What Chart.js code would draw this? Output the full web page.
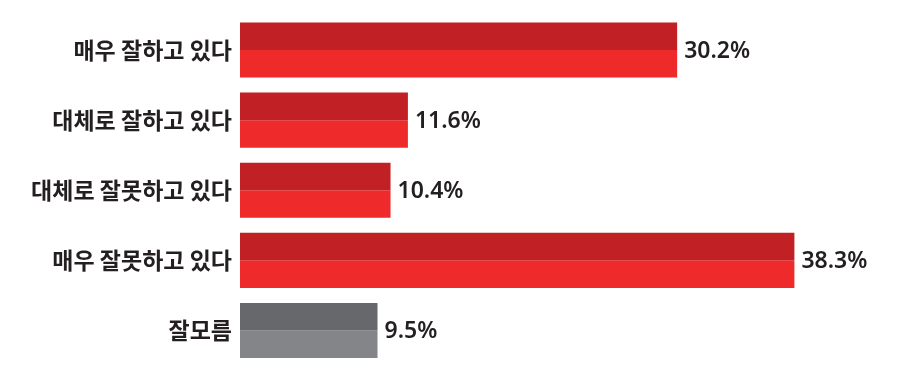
<!DOCTYPE html>
<html>
<head>
<meta charset="utf-8">
<script src="https://cdn.jsdelivr.net/npm/chart.js@4/dist/chart.umd.min.js"></script>
<style>
  html, body { margin: 0; padding: 0; background: #fff; }
  #wrap { width: 902px; height: 374px; }
</style>
</head>
<body>
<div id="wrap"><canvas id="chart"></canvas></div>
<script>
var categories = ["매우 잘하고 있다", "대체로 잘하고 있다", "대체로 잘못하고 있다", "매우 잘못하고 있다", "잘모름"];
var values = [30.2, 11.6, 10.4, 38.3, 9.5];
var topColors = ["#c12024", "#c12024", "#c12024", "#c12024", "#66686b"];
var bottomColors = ["#ee2a2b", "#ee2a2b", "#ee2a2b", "#ee2a2b", "#848588"];

// value labels at the end of each bar
var endLabels = {
    id: "endLabels",
    afterDatasetsDraw: function(chart) {
        var ctx = chart.ctx;
        var meta = chart.getDatasetMeta(1);
        ctx.save();
        ctx.font = "600 23px 'Noto Sans'";
        ctx.fillStyle = "#231f20";
        ctx.textAlign = "left";
        ctx.textBaseline = "middle";
        meta.data.forEach(function(bar, i) {
            var y = chart.scales.y.getPixelForValue(i);
            ctx.fillText(values[i].toFixed(1) + "%", bar.x + 7, y + 1);
        });
        ctx.restore();
    }
};

var ctx = document.getElementById("chart");
var chart = new Chart(ctx, {
    type: "bar",
    data: {
        labels: categories,
        datasets: [
            { data: values, backgroundColor: topColors, borderWidth: 0 },
            { data: values, backgroundColor: bottomColors, borderWidth: 0 }
        ]
    },
    options: {
        indexAxis: "y",
        responsive: true,
        maintainAspectRatio: false,
        animation: false,
        layout: { padding: { top: 15, bottom: 8.5, left: 0, right: 83 } },
        datasets: {
            bar: { barPercentage: 1, categoryPercentage: 0.786 }
        },
        scales: {
            x: {
                display: false,
                min: 0,
                max: 40
            },
            y: {
                grid: { display: false },
                border: { display: false },
                ticks: {
                    color: "#231f20",
                    padding: 0,
                    font: { family: "'Noto Sans CJK KR'", size: 23, weight: 600 }
                },
                afterFit: function(scale) {
                    scale.width = 240;
                    scale.paddingTop = 0;
                    scale.paddingBottom = 0;
                }
            }
        },
        plugins: {
            legend: { display: false },
            tooltip: { enabled: false }
        }
    },
    plugins: [endLabels]
});
</script>
</body>
</html>
